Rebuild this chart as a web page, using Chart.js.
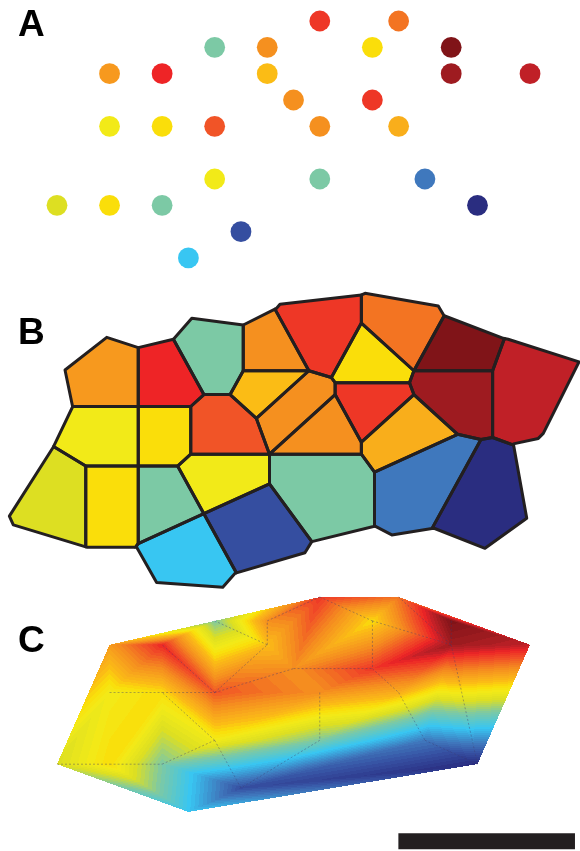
<!DOCTYPE html>
<html><head><meta charset="utf-8">
<script src="https://cdn.jsdelivr.net/npm/chart.js@4/dist/chart.umd.min.js"></script>
<style>
html,body{margin:0;padding:0;background:#fff;width:580px;height:851px;overflow:hidden}
.p{position:absolute;left:0;width:580px}
canvas{display:block}
</style></head><body>
<div class="p" style="top:0;height:290px"><canvas id="ca" width="580" height="290"></canvas></div>
<div class="p" style="top:290px;height:300px"><canvas id="cb" width="580" height="300"></canvas></div>
<div class="p" style="top:590px;height:261px"><canvas id="cc" width="580" height="261"></canvas></div>
<script>
// ---------------- DATA ----------------
// sample sites on a grid (column i, row j)
const siteI = [10,13,6,8,12,15,2,4,8,15,18,9,12,2,4,6,10,13,6,10,14,0,2,4,16,7,5];
const siteJ = [0,0,1,1,1,1,2,2,2,2,2,3,3,4,4,4,4,4,6,6,6,7,7,7,7,8,9];
// attribute value at each site (0 = low, 1 = high)
const siteValue = [0.85,0.77,0.40,0.73,0.60,1.00,0.71,0.87,0.64,0.95,0.91,0.73,0.85,0.56,0.60,0.81,0.73,0.67,0.56,0.40,0.16,0.50,0.60,0.40,0.00,0.08,0.28];
// outline of the study area (panel B), same grid units
const boundaryI = [0.50,0.21,1.80,3.00,4.34,5.04,7.00,8.27,8.40,11.51,11.64,14.43,14.65,16.91,17.09,19.79,18.43,18.24,17.29,17.80,16.21,14.27,12.66,12.02,9.61,9.35,6.69,6.22,3.70,2.94,1.06,-1.76,-1.91,-0.24];
const boundaryJ = [3.01,1.47,0.10,0.53,0.18,-0.70,-0.42,-1.12,-1.29,-1.68,-1.75,-1.22,-0.81,0.14,0.18,1.13,4.13,4.34,4.57,7.69,8.95,8.11,8.39,8.02,8.67,9.14,10.00,10.59,10.39,8.91,8.91,7.97,7.60,4.71];
// triangulation edges shown dotted in panel C (site indices)
const edgeFrom = [21,22,23,18,13,14,15,15,8,8,3,15,11,4,12,0,4,1,5,9,17,20,16,19,18];
const edgeTo   = [22,23,18,14,14,15,7,8,2,3,0,11,12,12,17,4,9,9,9,24,20,24,19,25,25];
// scale bar (grid units)
const scaleBarI = [12.99, 19.71];
const scaleBarJ = 10.23;
const panelLabels = ['A','B','C'];

// ---------------- STYLE ----------------
const cmapStops = [[0,'#2a2d80'],[0.08,'#354ea0'],[0.16,'#3f78bd'],[0.28,'#38c6f2'],[0.40,'#7cc9a5'],[0.50,'#dddf22'],[0.56,'#f2ea18'],[0.60,'#fade0a'],[0.64,'#fbbc15'],[0.67,'#f9ae1b'],[0.71,'#f7991e'],[0.73,'#f5901f'],[0.77,'#f37422'],[0.81,'#f15427'],[0.85,'#ee3726'],[0.87,'#ee2426'],[0.91,'#c02027'],[0.95,'#9e1b20'],[1,'#801418']];
const hex = h => [parseInt(h.slice(1,3),16),parseInt(h.slice(3,5),16),parseInt(h.slice(5,7),16)];
const stopsRGB = cmapStops.map(s=>[s[0],hex(s[1])]);
function cmapRGB(v){
  v = Math.max(0,Math.min(1,v));
  for(let k=1;k<stopsRGB.length;k++){
    if(v<=stopsRGB[k][0]){
      const a=stopsRGB[k-1], b=stopsRGB[k];
      const t=(v-a[0])/(b[0]-a[0]||1);
      return [0,1,2].map(c=>Math.round(a[1][c]+t*(b[1][c]-a[1][c])));
    }
  }
  return stopsRGB[stopsRGB.length-1][1];
}
const cmap = v => { const c=cmapRGB(v); return `rgb(${c[0]},${c[1]},${c[2]})`; };
const INK = '#231f20';

function labelPlugin(text, x, y){
  return { id:'lbl'+text, afterDraw(chart){
    const ctx=chart.ctx; ctx.save();
    ctx.font='bold 37px "Liberation Sans", Arial, sans-serif';
    ctx.fillStyle='#000'; ctx.textBaseline='alphabetic'; ctx.textAlign='left';
    ctx.fillText(text,x,y); ctx.restore();
  }};
}
function hiddenScales(xmin,xmax,ymin,ymax){
  return { x:{type:'linear',min:xmin,max:xmax,display:false},
           y:{type:'linear',min:ymin,max:ymax,reverse:true,display:false} };
}
const common = { responsive:false, animation:false, events:[], devicePixelRatio:1,
  layout:{padding:0, autoPadding:false}, plugins:{legend:{display:false},tooltip:{enabled:false}} };

const sites = siteI.map((x,k)=>({x, y:siteJ[k]}));

// ---------------- PANEL A ----------------
new Chart(document.getElementById('ca'), {
  type:'scatter',
  data:{datasets:[{data:sites, backgroundColor:siteValue.map(cmap), pointRadius:10.4, borderWidth:0, clip:false}]},
  options:Object.assign({}, common, {scales:hiddenScales(-57/26.28,(580-57)/26.28,-21/26.33,(290-21)/26.33)}),
  plugins:[labelPlugin(panelLabels[0],18,36)]
});

// ---------------- PANEL B (Voronoi cells) ----------------
function clipHalf(poly,a,b,c){
  const out=[];
  for(let k=0;k<poly.length;k++){
    const P=poly[k], Q=poly[(k+1)%poly.length];
    const fp=a*P[0]+b*P[1]-c, fq=a*Q[0]+b*Q[1]-c;
    if(fp<=0) out.push(P);
    if((fp<0&&fq>0)||(fp>0&&fq<0)){ const t=fp/(fp-fq); out.push([P[0]+t*(Q[0]-P[0]),P[1]+t*(Q[1]-P[1])]); }
  }
  return out;
}
const boundary = boundaryI.map((x,k)=>[x,boundaryJ[k]]);
const cells = sites.map((s,k)=>{
  let poly = boundary.slice();
  sites.forEach((m,q)=>{
    if(q===k) return;
    const a=m.x-s.x, b=m.y-s.y, c=(m.x*m.x+m.y*m.y-s.x*s.x-s.y*s.y)/2;
    poly = clipHalf(poly,a,b,c);
  });
  return poly;
});
new Chart(document.getElementById('cb'), {
  type:'line',
  data:{datasets:cells.map((poly,k)=>({
    data: poly.concat([poly[0]]).map(p=>({x:p[0],y:p[1]})),
    backgroundColor: cmap(siteValue[k]), borderColor: INK, borderWidth:3,
    borderJoinStyle:'round', fill:'shape', pointRadius:0, tension:0, clip:false
  }))},
  options:Object.assign({}, common, {
    scales:hiddenScales(-59.5/26.25,(580-59.5)/26.25,-45/23.83,(300-45)/23.83),
    plugins:Object.assign({}, common.plugins, {filler:{drawTime:'beforeDatasetsDraw'}})
  }),
  plugins:[labelPlugin(panelLabels[1],18,54)]
});

// ---------------- PANEL C (interpolated surface) ----------------
function delaunay(P){
  const n=P.length;
  const pts=P.concat([[-500,-500],[500,-500],[0,600]]);
  let tris=[[n,n+1,n+2]];
  const circ=t=>{
    const [ax,ay]=pts[t[0]],[bx,by]=pts[t[1]],[cx,cy]=pts[t[2]];
    const d=2*(ax*(by-cy)+bx*(cy-ay)+cx*(ay-by));
    if(Math.abs(d)<1e-12) return [0,0,Infinity];
    const ux=((ax*ax+ay*ay)*(by-cy)+(bx*bx+by*by)*(cy-ay)+(cx*cx+cy*cy)*(ay-by))/d;
    const uy=((ax*ax+ay*ay)*(cx-bx)+(bx*bx+by*by)*(ax-cx)+(cx*cx+cy*cy)*(bx-ax))/d;
    return [ux,uy,(ax-ux)*(ax-ux)+(ay-uy)*(ay-uy)];
  };
  for(let k=0;k<n;k++){
    const p=pts[k]; const bad=[], good=[];
    for(const t of tris){ const c=circ(t); const dx=p[0]-c[0], dy=p[1]-c[1];
      if(dx*dx+dy*dy < c[2]-1e-9) bad.push(t); else good.push(t); }
    const cnt=new Map();
    for(const t of bad) for(const e of [[t[0],t[1]],[t[1],t[2]],[t[2],t[0]]]){
      const key=Math.min(e[0],e[1])+','+Math.max(e[0],e[1]);
      const r=cnt.get(key); if(r) r.n++; else cnt.set(key,{e,n:1});
    }
    tris=good;
    for(const {e,n:c} of cnt.values()) if(c===1) tris.push([e[0],e[1],k]);
  }
  return tris.filter(t=>t[0]<n&&t[1]<n&&t[2]<n);
}
const triangles = delaunay(sites.map(s=>[s.x,s.y]));
const surfacePlugin = { id:'surface', beforeDatasetsDraw(chart){
  const xs=chart.scales.x, ys=chart.scales.y, W=chart.width, H=chart.height;
  const img=new ImageData(W,H), d=img.data;
  const px=sites.map(s=>[xs.getPixelForValue(s.x), ys.getPixelForValue(s.y)]);
  for(const t of triangles){
    const [a,b,c]=t.map(q=>px[q]);
    const va=siteValue[t[0]], vb=siteValue[t[1]], vc=siteValue[t[2]];
    const den=(b[1]-c[1])*(a[0]-c[0])+(c[0]-b[0])*(a[1]-c[1]);
    if(Math.abs(den)<1e-9) continue;
    const x0=Math.max(0,Math.floor(Math.min(a[0],b[0],c[0]))), x1=Math.min(W-1,Math.ceil(Math.max(a[0],b[0],c[0])));
    const y0=Math.max(0,Math.floor(Math.min(a[1],b[1],c[1]))), y1=Math.min(H-1,Math.ceil(Math.max(a[1],b[1],c[1])));
    for(let y=y0;y<=y1;y++) for(let x=x0;x<=x1;x++){
      const X=x+0.5, Y=y+0.5;
      const w0=((b[1]-c[1])*(X-c[0])+(c[0]-b[0])*(Y-c[1]))/den;
      const w1=((c[1]-a[1])*(X-c[0])+(a[0]-c[0])*(Y-c[1]))/den;
      const w2=1-w0-w1;
      if(w0<-1e-6||w1<-1e-6||w2<-1e-6) continue;
      let v=w0*va+w1*vb+w2*vc; v=Math.round(v*64)/64;
      const col=cmapRGB(v), o=(y*W+x)*4;
      d[o]=col[0]; d[o+1]=col[1]; d[o+2]=col[2]; d[o+3]=255;
    }
  }
  const off=document.createElement('canvas'); off.width=W; off.height=H;
  off.getContext('2d').putImageData(img,0,0);
  chart.ctx.drawImage(off,0,0);
}};
const edgeSets = edgeFrom.map((a,k)=>({
  data:[sites[a], sites[edgeTo[k]]], borderColor:'rgba(60,60,110,0.5)', borderWidth:0.8,
  borderDash:[2,2], pointRadius:0, fill:false, tension:0
}));
edgeSets.push({ data:[{x:scaleBarI[0],y:scaleBarJ},{x:scaleBarI[1],y:scaleBarJ}],
  borderColor:INK, borderWidth:16, borderCapStyle:'butt', pointRadius:0, fill:false, clip:false });
new Chart(document.getElementById('cc'), {
  type:'line',
  data:{datasets:edgeSets},
  options:Object.assign({}, common, {scales:hiddenScales(-57/26.28,(580-57)/26.28,-7/23.88,(261-7)/23.88)}),
  plugins:[surfacePlugin, labelPlugin(panelLabels[2],18,62)]
});
</script>
</body></html>
